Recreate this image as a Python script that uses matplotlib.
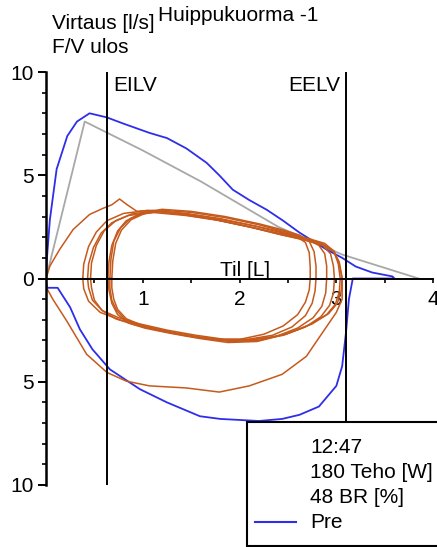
import matplotlib
matplotlib.use("Agg")
import matplotlib.pyplot as plt
from matplotlib.patches import Rectangle
from matplotlib.lines import Line2D

plt.rcParams['font.family'] = ['Liberation Sans', 'DejaVu Sans']

# predicted curve (grey)
gray_x = [0.00, 0.40, 1.00, 1.60, 2.40, 3.06, 3.85]
gray_y = [0.00, 7.60, 6.20, 4.70, 2.50, 1.16, 0.00]

# Pre curve (blue)
blue_x = [0.00, 0.01, 0.04, 0.11, 0.22, 0.32, 0.45, 0.63, 0.80, 1.07, 1.25, 1.45, 1.66,
          1.79, 1.93, 2.10, 2.28, 2.45, 2.62, 2.90, 3.06, 3.20, 3.37, 3.58, 3.60,
          3.17, 3.13, 3.10, 3.06, 3.00, 2.82, 2.62, 2.44, 2.20, 1.80, 1.59, 1.25,
          0.97, 0.66, 0.48, 0.35, 0.25, 0.12, 0.01, 0.00]
blue_y = [0.00, 1.00, 2.85, 5.30, 6.90, 7.60, 8.00, 7.80, 7.50, 7.05, 6.80, 6.30, 5.60,
          5.00, 4.30, 3.80, 3.33, 2.80, 2.22, 1.40, 1.00, 0.58, 0.29, 0.10, 0.00,
          0.00, -1.00, -2.60, -4.25, -5.20, -6.20, -6.60, -6.80, -6.90, -6.80, -6.67, -6.00,
          -5.36, -4.40, -3.43, -2.46, -1.40, -0.45, -0.45, 0.00]

# measured loops (orange)
big_x = [0.00, 0.04, 0.14, 0.28, 0.45, 0.59, 0.68, 0.76, 0.83, 0.94, 1.10, 1.40, 1.75,
         2.10, 2.40, 2.65, 2.85, 2.97, 3.03, 3.06, 3.06, 3.00, 2.86, 2.69, 2.44, 2.10,
         1.79, 1.45, 1.07, 0.83, 0.63, 0.42, 0.22, 0.07, 0.00, 0.00]
big_y = [0.00, 0.60, 1.40, 2.37, 3.10, 3.40, 3.57, 3.85, 3.60, 3.25, 3.30, 3.15, 2.85,
         2.50, 2.20, 1.95, 1.70, 1.35, 0.80, 0.00, -1.00, -1.64, -2.60, -3.77, -4.64, -5.20,
         -5.50, -5.30, -5.20, -4.97, -4.55, -3.67, -2.10, -1.00, -0.40, 0.00]

loop1_x = [0.38, 0.39, 0.44, 0.52, 0.63, 0.80, 1.05, 1.40, 1.75, 2.10, 2.40, 2.65, 2.85, 2.97, 3.03, 3.06,
           3.05, 3.01, 2.92, 2.75, 2.50, 2.20, 1.90, 1.60, 1.30, 1.00, 0.76, 0.56, 0.44, 0.39, 0.38]
loop1_y = [0.00, 0.70, 1.55, 2.25, 2.80, 3.15, 3.30, 3.10, 2.85, 2.50, 2.15, 1.90, 1.65, 1.30, 0.70, 0.00,
           -0.60, -1.20, -1.70, -2.20, -2.65, -3.00, -3.05, -2.85, -2.60, -2.30, -2.00, -1.64, -1.10, -0.50, 0.00]

loop2_x = [0.43, 0.44, 0.49, 0.57, 0.68, 0.85, 1.10, 1.45, 1.80, 2.15, 2.45, 2.68, 2.86, 2.94, 2.97, 2.98,
           2.97, 2.93, 2.84, 2.68, 2.45, 2.15, 1.85, 1.55, 1.25, 0.97, 0.75, 0.58, 0.48, 0.44, 0.43]
loop2_y = [0.00, 0.70, 1.50, 2.20, 2.70, 3.05, 3.20, 3.05, 2.80, 2.45, 2.10, 1.85, 1.60, 1.20, 0.60, 0.00,
           -0.70, -1.30, -1.85, -2.35, -2.75, -2.95, -2.95, -2.75, -2.50, -2.20, -1.90, -1.55, -1.05, -0.45, 0.00]

loop3_x = [0.64, 0.65, 0.68, 0.74, 0.83, 0.97, 1.18, 1.45, 1.80, 2.15, 2.45, 2.70, 2.88, 2.98, 3.02, 3.04,
           3.03, 2.99, 2.90, 2.72, 2.48, 2.18, 1.88, 1.58, 1.28, 1.02, 0.85, 0.74, 0.68, 0.65, 0.64]
loop3_y = [0.00, 0.80, 1.60, 2.30, 2.80, 3.10, 3.25, 3.15, 2.90, 2.55, 2.20, 1.95, 1.70, 1.30, 0.70, 0.00,
           -0.65, -1.25, -1.75, -2.25, -2.70, -3.05, -3.10, -2.90, -2.65, -2.40, -2.15, -1.75, -1.20, -0.55, 0.00]

loop4_x = [0.68, 0.69, 0.72, 0.78, 0.88, 1.02, 1.22, 1.50, 1.85, 2.20, 2.48, 2.68, 2.82, 2.88, 2.90, 2.90,
           2.89, 2.85, 2.76, 2.60, 2.38, 2.10, 1.80, 1.50, 1.22, 0.98, 0.83, 0.74, 0.70, 0.68, 0.68]
loop4_y = [0.00, 0.85, 1.70, 2.35, 2.85, 3.15, 3.30, 3.20, 2.95, 2.60, 2.25, 1.95, 1.60, 1.20, 0.60, 0.00,
           -0.70, -1.35, -1.90, -2.40, -2.80, -3.00, -3.00, -2.80, -2.55, -2.25, -1.95, -1.50, -1.00, -0.45, 0.00]

loop5_x = [0.66, 0.67, 0.70, 0.77, 0.87, 1.00, 1.20, 1.50, 1.85, 2.20, 2.45, 2.62, 2.72, 2.77, 2.79, 2.79,
           2.78, 2.75, 2.68, 2.54, 2.34, 2.08, 1.80, 1.50, 1.22, 0.99, 0.82, 0.73, 0.68, 0.66, 0.66]
loop5_y = [0.00, 0.90, 1.80, 2.45, 2.90, 3.20, 3.35, 3.25, 3.00, 2.65, 2.35, 2.10, 1.80, 1.30, 0.60, 0.00,
           -0.60, -1.20, -1.80, -2.35, -2.75, -2.95, -2.95, -2.80, -2.55, -2.30, -2.00, -1.55, -1.05, -0.45, 0.00]

loop6_x = [0.46, 0.47, 0.52, 0.60, 0.72, 0.90, 1.15, 1.48, 1.82, 2.15, 2.40, 2.58, 2.68, 2.72, 2.73, 2.73,
           2.72, 2.68, 2.60, 2.45, 2.25, 2.00, 1.72, 1.42, 1.15, 0.92, 0.72, 0.58, 0.50, 0.47, 0.46]
loop6_y = [0.00, 0.75, 1.60, 2.30, 2.80, 3.15, 3.25, 3.10, 2.85, 2.55, 2.30, 2.05, 1.75, 1.25, 0.55, 0.00,
           -0.55, -1.15, -1.75, -2.30, -2.70, -2.95, -2.95, -2.75, -2.50, -2.25, -1.95, -1.55, -1.05, -0.45, 0.00]

eilv = 0.63
eelv = 3.10
legend_lines = ['12:47', '180 Teho [W]', '48 BR [%]']

blue = '#2E2EEA'
orange = '#C55A1C'
gray = '#A8A8A8'
fs = 15

W, H = 437, 547
fig = plt.figure(figsize=(W / 100, H / 100), dpi=100)
ax = fig.add_axes([46 / W, 1 - 485 / H, (W - 46) / W, (485 - 72) / H])
ax.set_xlim(0, 4.04)
ax.set_ylim(-10, 10)

ax.plot(gray_x, gray_y, color=gray, lw=1.3)
ax.plot(blue_x, blue_y, color=blue, lw=1.3)
for lx, ly in [(big_x, big_y), (loop1_x, loop1_y), (loop2_x, loop2_y), (loop3_x, loop3_y),
               (loop4_x, loop4_y), (loop5_x, loop5_y), (loop6_x, loop6_y)]:
    ax.plot(lx, ly, color=orange, lw=1.1)

# EILV / EELV markers
ax.plot([eilv, eilv], [-10, 10], color='black', lw=1.4)
ax.plot([eelv, eelv], [-10, 10], color='black', lw=1.4)
ax.text(eilv + 0.06, 9.1, 'EILV', fontsize=fs, ha='left', va='baseline')
ax.text(eelv - 0.06, 9.1, 'EELV', fontsize=fs, ha='right', va='baseline')
ax.text(1.80, 0.1, 'Til [L]', fontsize=fs, ha='left', va='baseline')

# axes
for s in ['top', 'right']:
    ax.spines[s].set_visible(False)
ax.spines['bottom'].set_position(('data', 0))
ax.spines['bottom'].set_bounds(0, 4)
ax.spines['left'].set_bounds(-10, 10)
ax.spines['left'].set_linewidth(1.8)
ax.spines['bottom'].set_linewidth(1.4)

ax.set_xticks([1, 2, 3, 4])
ax.set_xticklabels(['1', '2', '3', '4'])
ax.set_xticks([0.5, 1.5, 2.5, 3.5], minor=True)
ax.set_yticks([-10, -5, 0, 5, 10])
ax.set_yticklabels(['10', '5', '0', '5', '10'])
ax.set_yticks(list(range(-10, 11)), minor=True)
ax.tick_params(axis='y', which='major', length=6, width=1.4, pad=3, labelsize=fs)
ax.tick_params(axis='y', which='minor', length=3, width=1.2)
ax.tick_params(axis='x', which='both', length=3, width=1.2, pad=5, labelsize=fs)

# titles
fig.text(52 / W, 1 - 29 / H, 'Virtaus [l/s]', fontsize=fs, va='baseline')
fig.text(52 / W, 1 - 53 / H, 'F/V ulos', fontsize=fs, va='baseline')
fig.text(158 / W, 1 - 21 / H, 'Huippukuorma -1', fontsize=fs, va='baseline')

# legend box
fig.add_artist(Rectangle((247 / W, 1 - 546 / H), (W + 5 - 247) / W, (546 - 422) / H,
                         transform=fig.transFigure, facecolor='white', edgecolor='black',
                         lw=1.5, zorder=10))
for i, t in enumerate(legend_lines):
    fig.text(310 / W, 1 - (453 + 25 * i) / H, t, fontsize=fs, va='baseline', zorder=11)
fig.text(310 / W, 1 - 528 / H, 'Pre', fontsize=fs, va='baseline', zorder=11)
fig.add_artist(Line2D([255 / W, 296 / W], [1 - 522 / H, 1 - 522 / H], transform=fig.transFigure,
                      color=blue, lw=1.5, zorder=11))

fig.savefig('out.png', dpi=100)
